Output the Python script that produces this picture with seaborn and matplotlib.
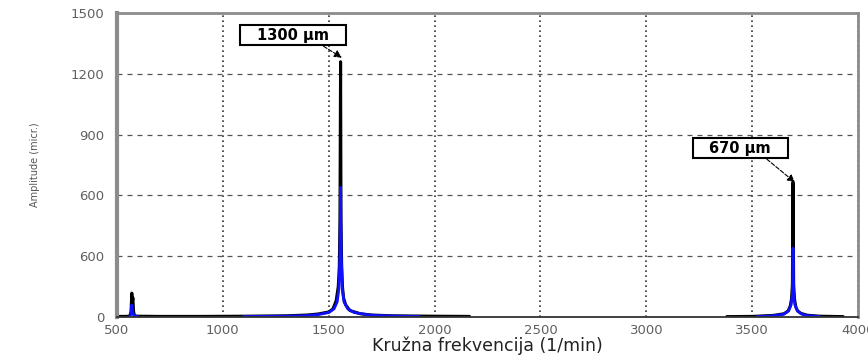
import matplotlib
matplotlib.use("Agg")
import matplotlib.pyplot as plt
from matplotlib.ticker import MultipleLocator, FixedLocator
from matplotlib.offsetbox import TextArea, DrawingArea, HPacker, AnnotationBbox
import numpy as np
import pandas as pd
import seaborn as sns

### Data ###

# black trace (total response), two separate segments
black_freq_a = [510, 540, 560, 566, 570, 572, 575, 578, 582, 600, 700, 900, 1100,
                1300, 1400, 1450, 1500, 1520, 1535, 1545, 1550, 1553, 1556, 1558,
                1561, 1565, 1570, 1580, 1600, 1650, 1700, 1800, 2000, 2165]
black_amp_a = [3, 3, 4, 25, 118, 70, 95, 30, 6, 4, 3, 3, 4,
               6, 10, 15, 25, 40, 80, 150, 250, 480, 1260, 480,
               260, 150, 95, 60, 32, 16, 10, 6, 4, 3]
black_freq_b = [3380, 3500, 3600, 3650, 3670, 3680, 3686, 3690, 3693, 3696,
                3700, 3706, 3715, 3730, 3760, 3820, 3930]
black_amp_b = [2, 3, 8, 16, 30, 55, 90, 160, 665, 160,
               90, 50, 30, 18, 9, 4, 2]

# blue trace
blue_freq_a = [560, 566, 570, 574, 580, 600]
blue_amp_a = [2, 15, 59, 25, 4, 2]
blue_freq_b = [1095, 1300, 1400, 1450, 1500, 1525, 1540, 1548, 1553, 1556,
               1559, 1564, 1572, 1590, 1620, 1700, 1800, 1930]
blue_amp_b = [2, 4, 7, 12, 22, 40, 75, 140, 300, 640,
              300, 140, 75, 40, 22, 9, 5, 2]
blue_freq_c = [3520, 3600, 3650, 3672, 3684, 3690, 3693, 3696, 3702, 3714,
               3735, 3760, 3820]
blue_amp_c = [2, 6, 14, 30, 60, 110, 340, 110, 60, 30, 14, 7, 2]

peak_labels = ["1300 \u00b5m", "670 \u00b5m"]
peak_xy = [(1562, 1280), (3702, 665)]
label_xy = [(1331, 1391), (3443, 834)]

ytick_values = [0, 300, 600, 900, 1200, 1500]
ytick_labels = ["0", "600", "600", "900", "1200", "1500"]
xtick_values = [500, 1000, 1500, 2000, 2500, 3000, 3500, 4000]
xtick_labels = ["500", "1000", "1500", "2000", "2500", "3000", "3500", "4000"]

### Build long table ###

parts = [
    ("black", "a", black_freq_a, black_amp_a),
    ("black", "b", black_freq_b, black_amp_b),
    ("blue", "a", blue_freq_a, blue_amp_a),
    ("blue", "b", blue_freq_b, blue_amp_b),
    ("blue", "c", blue_freq_c, blue_amp_c),
]
frames = []
for trace, seg, fr, am in parts:
    frames.append(pd.DataFrame({"freq": fr, "amp": am, "trace": trace,
                                "seg": trace + seg}))
df = pd.concat(frames, ignore_index=True)

### Plot ###

sns.set_style("white")
plt.rcParams["font.family"] = ["DejaVu Sans"]

fig = plt.figure(figsize=(8.68, 3.55), dpi=100)
ax = fig.add_axes([0.1348, 0.107, 0.8537, 0.856])

ax.grid(axis="y", color="#555555", linestyle=(0, (4, 4)), linewidth=0.9)
ax.grid(axis="x", color="#333333", linestyle=(0, (1, 2)), linewidth=1.2)
ax.set_axisbelow(True)

sns.lineplot(data=df[df["trace"] == "black"], x="freq", y="amp", units="seg",
             estimator=None, sort=False, color="black", linewidth=2.2, ax=ax)
sns.lineplot(data=df[df["trace"] == "blue"], x="freq", y="amp", units="seg",
             estimator=None, sort=False, color="#1010ff", linewidth=2.0, ax=ax)

ax.set_xlim(500, 4000)
ax.set_ylim(0, 1500)
ax.xaxis.set_major_locator(FixedLocator(xtick_values))
ax.set_xticklabels(xtick_labels)
ax.yaxis.set_major_locator(FixedLocator(ytick_values))
ax.set_yticklabels(ytick_labels)
ax.xaxis.set_minor_locator(MultipleLocator(500 / 3))
ax.yaxis.set_minor_locator(MultipleLocator(60))

ax.tick_params(axis="y", which="major", length=8, width=1.2, color="#444444",
               labelsize=9.5, labelcolor="#606060", pad=1)
ax.tick_params(axis="y", which="minor", length=3, width=1.2, color="#444444")
ax.tick_params(axis="x", which="major", length=4, width=1.2, color="#333333",
               direction="inout", labelsize=9.5, labelcolor="#606060", pad=3)
ax.tick_params(axis="x", which="minor", length=2, width=1.5, color="#333333")

for side in ["left", "top", "right"]:
    ax.spines[side].set_color("#8c8c8c")
ax.spines["left"].set_linewidth(3)
ax.spines["top"].set_linewidth(2)
ax.spines["right"].set_linewidth(2)
ax.spines["bottom"].set_color("#333333")
ax.spines["bottom"].set_linewidth(1.3)

ax.set_xlabel("Kru\u017ena frekvencija (1/min)", fontsize=12.5, color="#222222",
              labelpad=0)
ax.set_ylabel("Amplitude (micr.)", fontsize=7, color="#555555", labelpad=22)

for txt, xy, xyt in zip(peak_labels, peak_xy, label_xy):
    label = TextArea(txt, textprops=dict(fontsize=10.5, fontweight="bold",
                                         color="black"))
    packed = HPacker(children=[DrawingArea(10, 1), label, DrawingArea(10, 1)],
                     align="center", pad=0, sep=0)
    ab = AnnotationBbox(packed, xy, xybox=xyt, xycoords="data",
                        boxcoords="data", pad=0.2, frameon=True,
                        bboxprops=dict(boxstyle="square,pad=0.2", fc="white",
                                       ec="black", lw=1.5),
                        arrowprops=dict(arrowstyle="-|>", color="black", lw=0.8,
                                        linestyle="--", relpos=(0.75, 0.0),
                                        mutation_scale=8, shrinkA=0, shrinkB=0))
    ax.add_artist(ab)

fig.savefig("out.png", dpi=100)
